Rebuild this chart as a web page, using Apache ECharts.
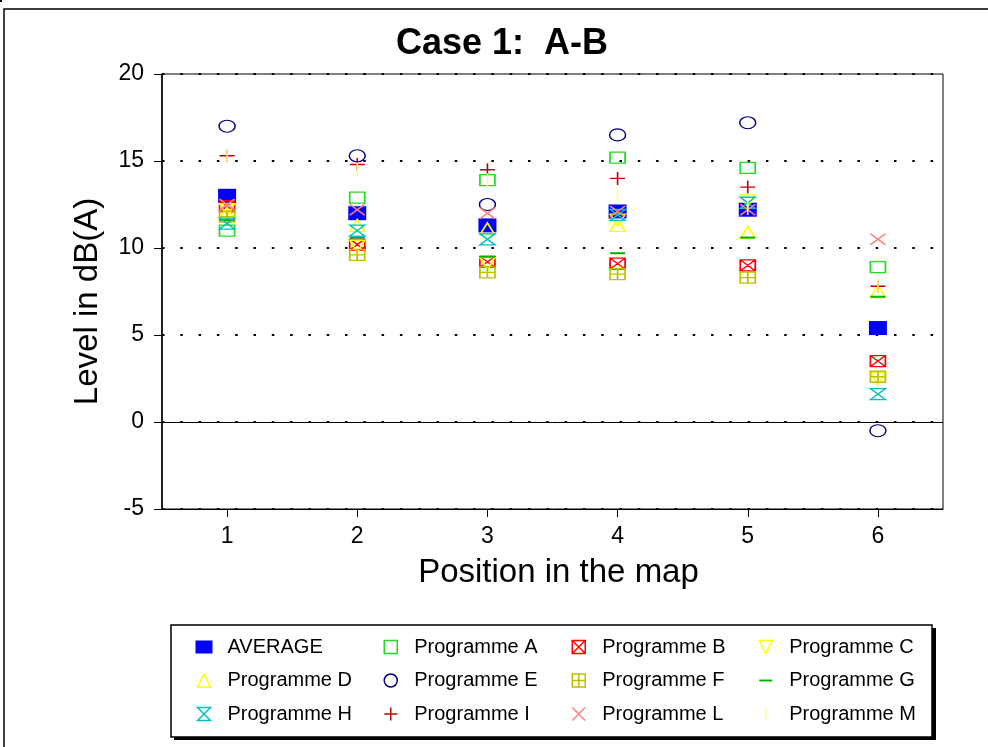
<!DOCTYPE html>
<html>
<head>
<meta charset="utf-8">
<script src="https://cdn.jsdelivr.net/npm/echarts@6/dist/echarts.min.js"></script>
<style>
html,body{margin:0;padding:0;background:#fff;}
#chart{width:988px;height:747px;}
</style>
</head>
<body>
<div id="chart"></div>
<script>
// ---- data ----
var positions = ['1', '2', '3', '4', '5', '6'];
var yTicks = [-5, 0, 5, 10, 15, 20];
var seriesNames = ['AVERAGE', 'Programme A', 'Programme B', 'Programme C', 'Programme D', 'Programme E',
                   'Programme F', 'Programme G', 'Programme H', 'Programme I', 'Programme L', 'Programme M'];
var average    = [13.0, 12.0, 11.3, 12.1, 12.2, 5.4];
var programmeA = [11.0, 12.9, 13.9, 15.2, 14.6, 8.9];
var programmeB = [12.4, 10.2, 9.2, 9.1, 9.0, 3.5];
var programmeC = [12.2, 10.1, 9.1, 11.6, 12.7, 2.5];
var programmeD = [12.0, 11.3, 11.1, 11.3, 10.9, 7.5];
var programmeE = [17.0, 15.3, 12.5, 16.5, 17.2, -0.5];
var programmeF = [11.8, 9.6, 8.6, 8.5, 8.3, 2.6];
var programmeG = [11.6, 10.6, 9.5, 9.7, 10.6, 7.2];
var programmeH = [11.4, 11.0, 10.5, 11.9, 12.6, 1.6];
var programmeI = [15.3, 14.8, 14.5, 14.0, 13.5, 7.8];
var programmeL = [12.5, 12.2, 12.0, 12.1, 12.2, 10.5];
var programmeM = [15.3, 14.5, 13.9, 13.0, 12.3, 7.8];

var values = [average, programmeA, programmeB, programmeC, programmeD, programmeE,
              programmeF, programmeG, programmeH, programmeI, programmeL, programmeM];

// ---- styles ----
var FONT = 'Liberation Sans, Arial, sans-serif';
var T = 'rgba(0,0,0,0)';
var styles = [
  {symbol: 'rect', size: [18, 14], color: '#0000ff', border: '#0000ff', bw: 0},
  {symbol: 'path://M0,0L10,0L10,10L0,10Z', size: [15, 11], color: T, border: '#22dd22', bw: 1.5},
  {symbol: 'path://M0,0L10,0L10,10L0,10ZM0,0L10,10M10,0L0,10', size: [15, 11], color: T, border: '#ff0000', bw: 1.5},
  {symbol: 'path://M0,0L10,0L5,10Z', size: [15, 12], color: T, border: '#ffff00', bw: 1.5},
  {symbol: 'path://M5,0L10,10L0,10Z', size: [15, 12], color: T, border: '#ffff00', bw: 1.5},
  {symbol: 'path://M0,5A5,5,0,1,1,10,5A5,5,0,1,1,0,5Z', size: [16, 12], color: T, border: '#000080', bw: 1.3},
  {symbol: 'path://M0,0L10,0L10,10L0,10ZM5,0L5,10M0,5L10,5', size: [15, 11], color: T, border: '#c0c000', bw: 1.5},
  {symbol: 'path://M0,0L0,0M0,6L14,6L14,8L0,8ZM14,14L14,14', size: [15, 14], color: '#00b000', border: '#00b000', bw: 0},
  {symbol: 'path://M0,0L10,0L0,10L10,10Z', size: [15, 11], color: T, border: '#00c0c0', bw: 1.5},
  {symbol: 'path://M5,0L5,10M0,5L10,5', size: [15, 13], color: T, border: '#c00000', bw: 1.5},
  {symbol: 'path://M0,0L10,10M10,0L0,10', size: [15, 11], color: T, border: '#ff8080', bw: 1.5},
  {symbol: 'path://M0,0L0,0M6.2,0L7.8,0L7.8,14L6.2,14ZM14,14L14,14', size: [14, 14], color: '#ffff80', border: '#ffff80', bw: 0}
];

var series = values.map(function (vals, i) {
  var st = styles[i];
  var s = {
    name: seriesNames[i],
    type: 'scatter',
    data: vals,
    symbol: st.symbol,
    symbolSize: st.size,
    itemStyle: {color: st.color, borderColor: st.border, borderWidth: st.bw, opacity: 1},
    emphasis: {disabled: true},
    z: 2 + i * 0.01
  };
  if (i === 0) {
    s.markLine = {
      silent: true, symbol: 'none', label: {show: false},
      lineStyle: {color: '#000', type: 'solid', width: 1},
      data: [{yAxis: 0}],
      animation: false
    };
  }
  return s;
});

var legendCols = [
  {left: 190.5, names: ['AVERAGE', 'Programme D', 'Programme H']},
  {left: 378.5, names: ['Programme A', 'Programme E', 'Programme I']},
  {left: 566.5, names: ['Programme B', 'Programme F', 'Programme L']},
  {left: 753.5, names: ['Programme C', 'Programme G', 'Programme M']}
];
var legends = legendCols.map(function (col) {
  return {
    orient: 'vertical',
    left: col.left,
    top: 632,
    itemWidth: 17,
    itemHeight: 13,
    itemGap: 13.5,
    selectedMode: false,
    itemStyle: {borderWidth: 1.5},
    textStyle: {fontFamily: FONT, fontSize: 20, color: '#000', lineHeight: 20, padding: [0, 0, 0, 10]},
    data: col.names.map(function (n) {
      var idx = seriesNames.indexOf(n);
      var d = {name: n};
      if (styles[idx].bw === 0) d.itemStyle = {borderWidth: 0};
      return d;
    })
  };
});

var chart = echarts.init(document.getElementById('chart'), null, {renderer: 'canvas'});
chart.setOption({
  animation: false,
  backgroundColor: '#fff',
  title: {
    text: 'Case 1:  A-B',
    left: 391,
    top: 21,
    textStyle: {fontFamily: FONT, fontSize: 36, fontWeight: 'bold', color: '#000'}
  },
  graphic: [
    {type: 'rect', shape: {x: 4, y: 9, width: 990, height: 745}, style: {fill: 'none', stroke: '#000', lineWidth: 1.5}, z: -10},
    {type: 'rect', shape: {x: 0, y: 0, width: 2, height: 2}, style: {fill: '#000'}, z: -10},
    {type: 'rect', shape: {x: 174, y: 628, width: 762, height: 112}, style: {fill: '#000'}, z: 0},
    {type: 'rect', shape: {x: 171, y: 625, width: 761, height: 112},
     style: {fill: '#fff', stroke: '#000', lineWidth: 1.5}, z: 1}
  ],
  legend: legends,
  grid: {
    left: 162, top: 74, width: 781, height: 435,
    show: true, borderColor: '#000', borderWidth: 1, backgroundColor: 'transparent'
  },
  xAxis: {
    type: 'category',
    data: positions,
    boundaryGap: true,
    name: 'Position in the map',
    nameLocation: 'middle',
    nameGap: 47,
    nameTextStyle: {fontFamily: FONT, fontSize: 33, color: '#000', verticalAlign: 'top', padding: [0, 0, 0, 12]},
    axisLine: {onZero: false, lineStyle: {color: '#000', width: 1}},
    axisTick: {show: true, alignWithLabel: true, length: 8, lineStyle: {color: '#000', width: 1}},
    axisLabel: {fontFamily: FONT, fontSize: 23, color: '#000', margin: 16},
    splitLine: {show: false}
  },
  yAxis: {
    type: 'value',
    min: -5, max: 20, interval: 5,
    name: 'Level in dB(A)',
    nameLocation: 'middle',
    nameGap: 58,
    nameTextStyle: {fontFamily: FONT, fontSize: 33, color: '#000', padding: [0, 20, 0, 0]},
    axisLine: {show: true, lineStyle: {color: '#000', width: 1.5}},
    axisTick: {show: true, length: 8, lineStyle: {color: '#000', width: 1}},
    axisLabel: {fontFamily: FONT, fontSize: 23, color: '#000', margin: 18,
      formatter: function (v) { return yTicks.indexOf(v) >= 0 ? String(v) : ''; }},
    splitLine: {show: true, lineStyle: {color: '#000', type: [2.5, 15.8], width: 2}}
  },
  series: series
});
</script>
</body>
</html>
